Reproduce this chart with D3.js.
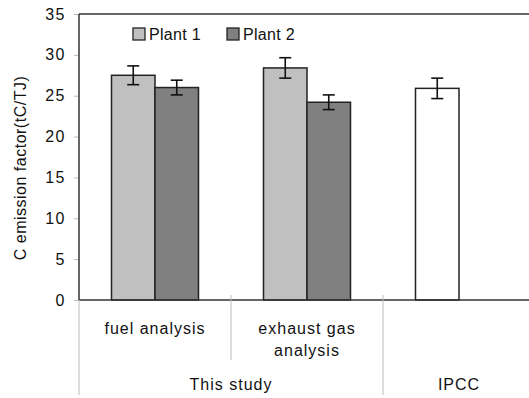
<!DOCTYPE html>
<html>
<head>
<meta charset="utf-8">
<script src="https://cdn.jsdelivr.net/npm/d3@7"></script>
<style>
  body { margin: 0; background: #fff; }
  text { font-family: "Liberation Sans", Arial, sans-serif; fill: #111; }
</style>
</head>
<body>
<div id="root"></div>
<script>
const w = 529, h = 398

// data
const categories = ["fuel", "exhaust", "ipcc"]
const series = ["Plant 1", "Plant 2"]
const plant1 = [27.5, 28.4, 25.9]
const plant1Err = [1.15, 1.25, 1.25]
const plant2 = [26.0, 24.2, null]
const plant2Err = [0.9, 0.9, null]
const yTicks = [0, 5, 10, 15, 20, 25, 30, 35]

const colors = {"Plant 1": "#c0c0c0", "Plant 2": "#808080"}

const plotL = 79, plotR = 535, plotT = 14, plotB = 300

const x = d3.scaleBand().domain(categories).range([plotL, plotR]).paddingInner(0).paddingOuter(0)
const xs = d3.scaleBand().domain(series).range([0, x.bandwidth()]).paddingOuter(0.747).paddingInner(0)
const y = d3.scaleLinear().domain([0, 35]).range([plotB, plotT])

const svg = d3.select("#root").append("svg")
    .attr("width", w)
    .attr("height", h)

// rows for bars
const rows = []
categories.forEach((c, i) => {
    if (plant1[i] != null) rows.push({cat: c, s: "Plant 1", v: plant1[i], e: plant1Err[i], fill: c == "ipcc" ? "#ffffff" : colors["Plant 1"]})
    if (plant2[i] != null) rows.push({cat: c, s: "Plant 2", v: plant2[i], e: plant2Err[i], fill: colors["Plant 2"]})
})

// y axis ticks + labels
const yAxis = svg.append("g").attr("transform", `translate(${plotL},0)`)
    .call(d3.axisLeft(y).tickValues(yTicks).tickSize(5).tickPadding(8))
yAxis.select(".domain").remove()
yAxis.selectAll(".tick line").attr("stroke", "#bbb")
yAxis.selectAll(".tick text").attr("font-size", 16).attr("fill", "#111")
    .attr("letter-spacing", 1.5)
    .style("font-family", "'Liberation Sans', Arial, sans-serif")

// bars
svg.selectAll("rect.bar").data(rows).enter().append("rect")
    .attr("class", "bar")
    .attr("x", d => x(d.cat) + xs(d.s))
    .attr("y", d => y(d.v))
    .attr("width", xs.bandwidth())
    .attr("height", d => y(0) - y(d.v))
    .attr("fill", d => d.fill)
    .attr("stroke", "#222")
    .attr("stroke-width", 1.5)

// error bars
const eg = svg.selectAll("g.err").data(rows).enter().append("g").attr("class", "err")
    .attr("stroke", "#111").attr("stroke-width", 1.6)
eg.append("line")
    .attr("x1", d => x(d.cat) + xs(d.s) + xs.bandwidth() / 2)
    .attr("x2", d => x(d.cat) + xs(d.s) + xs.bandwidth() / 2)
    .attr("y1", d => y(d.v + d.e)).attr("y2", d => y(d.v - d.e))
eg.selectAll("line.cap").data(d => [[d, d.v + d.e], [d, d.v - d.e]]).enter().append("line")
    .attr("class", "cap")
    .attr("x1", d => x(d[0].cat) + xs(d[0].s) + xs.bandwidth() / 2 - 6)
    .attr("x2", d => x(d[0].cat) + xs(d[0].s) + xs.bandwidth() / 2 + 6)
    .attr("y1", d => y(d[1])).attr("y2", d => y(d[1]))

// frame lines
svg.append("line").attr("x1", plotL).attr("x2", plotR).attr("y1", y(35)).attr("y2", y(35))
    .attr("stroke", "#333").attr("stroke-width", 1.5)
svg.append("line").attr("x1", plotL).attr("x2", plotL).attr("y1", y(35)).attr("y2", y(0))
    .attr("stroke", "#333").attr("stroke-width", 1.5)
svg.append("line").attr("x1", plotL).attr("x2", plotR).attr("y1", y(0)).attr("y2", y(0))
    .attr("stroke", "#333").attr("stroke-width", 1.5)

// category separators
const sep = [
    {x: x("fuel"), y1: plotB, y2: 395},
    {x: x("exhaust"), y1: plotB - 5, y2: 360},
    {x: x("ipcc"), y1: plotB - 5, y2: 395}
]
svg.selectAll("line.sep").data(sep).enter().append("line")
    .attr("x1", d => d.x).attr("x2", d => d.x)
    .attr("y1", d => d.y1).attr("y2", d => d.y2)
    .attr("stroke", "#bbb").attr("stroke-width", 1)

// category labels
const catLabels = [
    {x: x("fuel") + x.bandwidth() / 2, y: 334, t: "fuel analysis"},
    {x: x("exhaust") + x.bandwidth() / 2, y: 334, t: "exhaust gas"},
    {x: x("exhaust") + x.bandwidth() / 2, y: 356, t: "analysis"},
    {x: x("fuel") + x.bandwidth(), y: 390, t: "This study"},
    {x: x("ipcc") + 76, y: 390, t: "IPCC"}
]
svg.selectAll("text.cat").data(catLabels).enter().append("text")
    .attr("class", "cat")
    .attr("x", d => d.x).attr("y", d => d.y)
    .attr("text-anchor", "middle")
    .attr("font-size", 16)
    .attr("letter-spacing", 1)
    .text(d => d.t)

// y title
svg.append("text")
    .attr("transform", `translate(26,168) rotate(-90)`)
    .attr("text-anchor", "middle")
    .attr("font-size", 16)
    .attr("letter-spacing", 0.5)
    .text("C emission factor(tC/TJ)")

// legend
const legend = svg.selectAll("g.leg").data(series).enter().append("g").attr("class", "leg")
    .attr("transform", (d, i) => `translate(${133 + i * 94},28)`)
legend.append("rect").attr("width", 12).attr("height", 12)
    .attr("fill", d => colors[d]).attr("stroke", "#222").attr("stroke-width", 1.3)
legend.append("text").attr("x", 16).attr("y", 12).attr("font-size", 16).attr("letter-spacing", 0.3).text(d => d)
</script>
</body>
</html>
